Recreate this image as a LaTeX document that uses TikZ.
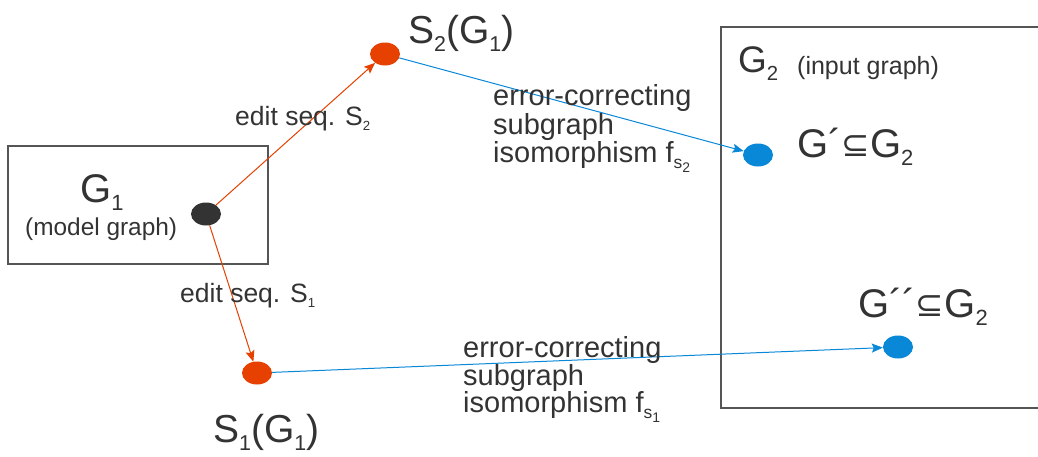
\documentclass[tikz,border=0pt]{standalone}
\usepackage{fontspec}
\setmainfont{Liberation Sans}
\newfontfamily\dvfont{DejaVu Sans}
\usetikzlibrary{arrows.meta,shapes.geometric}
\definecolor{txt}{HTML}{333333}
\definecolor{edred}{HTML}{E64100}
\definecolor{ecblue}{HTML}{0A88D8}
\definecolor{boxgray}{HTML}{555555}
\newcommand{\mysub}[2][0.55]{\raisebox{-0.22em}{\scalebox{#1}{#2}}}
\newcommand{\fs}[1]{\fontsize{#1}{#1}\selectfont}
\tikzset{
  dot/.style={ellipse, minimum width=30pt, minimum height=23pt, inner sep=0pt, draw=none},
  reddot/.style={dot, fill=edred},
  bluedot/.style={dot, fill=ecblue},
  blackdot/.style={dot, fill=txt},
  lbl/.style={anchor=base west, inner sep=0pt, text=txt},
  redarrow/.style={draw=edred, line width=1pt, -{Stealth[length=11pt,width=9pt,inset=2pt]}},
  bluearrow/.style={draw=ecblue, line width=1pt, -{Stealth[length=11pt,width=9pt,inset=2pt]}},
  graphbox/.style={draw=boxgray, line width=1.2pt}
}
\begin{document}
\begin{tikzpicture}[x=1pt,y=-1pt]
\clip (0,0) rectangle (1038,456);
\fill[white] (0,0) rectangle (1038,456);
% boxes
\draw[graphbox] (8,146) rectangle (268,264);
\draw[graphbox] (1045,27) -- (721,27) -- (721,408) -- (1045,408);
% dots
\node[blackdot] (g1) at (206,214) {};
\node[reddot] (s2) at (385,54) {};
\node[reddot] (s1) at (257,373) {};
\node[bluedot] (gp) at (758,155) {};
\node[bluedot] (gpp) at (898,347) {};
% connectors
\draw[redarrow] (g1) -- (s2);
\draw[redarrow] (g1) -- (s1);
\draw[bluearrow] (s2) -- (gp);
\draw[bluearrow] (s1) -- (gpp);
% labels
\node[lbl] (ts2) at (408,43) {\fs{39}S\mysub{2}(G\mysub{1})};
\node[lbl] (ts1) at (213,442) {\fs{39}S\mysub{1}(G\mysub{1})};
\node[lbl] (tg1) at (80,202) {\fs{40}G\mysub{1}};
\node[lbl] (tmg) at (25,235) {\fs{24.4}(model graph)};
\node[lbl] (tg2) at (738,72) {\fs{37}G\mysub{2}};
\node[lbl] (tig) at (797,74) {\fs{25}(input graph)};
\node[lbl] (tgp) at (797,157) {\fs{40}G´{\dvfont\raisebox{0.02em}{\scalebox{0.85}{⊆}}}G\mysub{2}};
\node[lbl] (tgpp) at (858,317) {\fs{40}G´´{\dvfont\raisebox{0.02em}{\scalebox{0.85}{⊆}}}G\mysub{2}};
\node[lbl] (te2) at (235,125) {\fs{26.5}edit seq. S\mysub[0.5]{2}};
\node[lbl] (te1) at (180,302) {\fs{26.5}edit seq. S\mysub[0.5]{1}};
\node[lbl] (ec2a) at (493,105) {\fs{29}error-correcting};
\node[lbl] (ec2b) at (493,134) {\fs{29}subgraph};
\node[lbl] (ec2c) at (493,162) {\fs{29}isomorphism f\mysub[0.6]{s\mysub[0.8]{2}}};
\node[lbl] (ec1a) at (463,357) {\fs{29}error-correcting};
\node[lbl] (ec1b) at (463,385) {\fs{29}subgraph};
\node[lbl] (ec1c) at (463,412) {\fs{29}isomorphism f\mysub[0.6]{s\mysub[0.8]{1}}};
\end{tikzpicture}
\end{document}
